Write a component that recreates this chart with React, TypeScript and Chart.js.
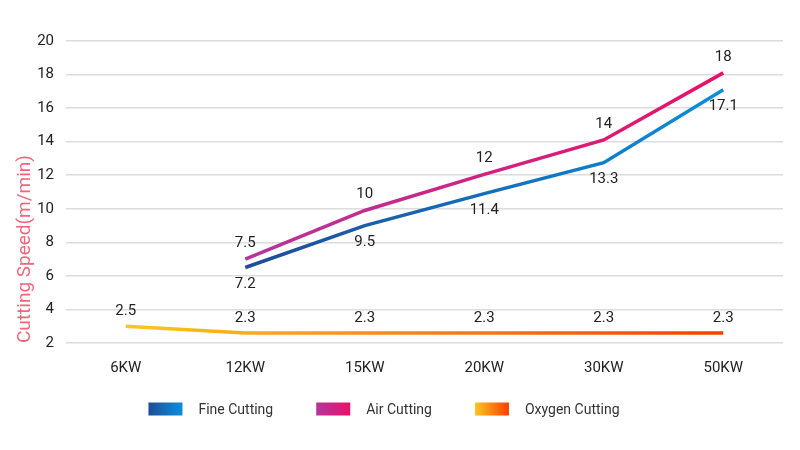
import React, { useEffect, useRef } from "react";
import { Chart, registerables } from "chart.js";

Chart.register(...registerables);

const categories = ["6KW", "12KW", "15KW", "20KW", "30KW", "50KW"];
const fineCutting = [null, 6.5, 9.0, 10.9, 12.75, 17.1];
const airCutting = [null, 7.0, 9.9, 12.05, 14.1, 18.1];
const oxygenCutting = [3.0, 2.6, 2.6, 2.6, 2.6, 2.6];
const fineLabels = ["", "7.2", "9.5", "11.4", "13.3", "17.1"];
const airLabels = ["", "7.5", "10", "12", "14", "18"];
const oxygenLabels = ["2.5", "2.3", "2.3", "2.3", "2.3", "2.3"];
const seriesNames = ["Fine Cutting", "Air Cutting", "Oxygen Cutting"];
const yTicks = [2, 4, 6, 8, 10, 12, 14, 16, 18, 20];

const FONT = "Roboto, 'Noto Sans', sans-serif";
const gradColors: [string, string][] = [
  ["#1f4c98", "#0a8fdc"],
  ["#b4369c", "#ec0f68"],
  ["#fcc71e", "#ff3d00"],
];
const labelDy = [17, -16, -15];

function lineGradient(ctx: any, di: number) {
  const chart = ctx.chart;
  const area = chart.chartArea;
  if (!area) return gradColors[di][0];
  const data = chart.data.datasets[di].data as (number | null)[];
  let first = 0;
  while (first < data.length && data[first] == null) first++;
  const xs = chart.scales.x;
  const x0 = xs.getPixelForValue(first);
  const x1 = xs.getPixelForValue(data.length - 1);
  const g = chart.ctx.createLinearGradient(x0, 0, x1, 0);
  g.addColorStop(0, gradColors[di][0]);
  g.addColorStop(1, gradColors[di][1]);
  return g;
}

const valueLabelPlugin = {
  id: "valueLabels",
  afterDatasetsDraw(chart: any) {
    const ctx = chart.ctx;
    const all = [fineLabels, airLabels, oxygenLabels];
    ctx.save();
    ctx.font = `15px ${FONT}`;
    ctx.fillStyle = "#222";
    ctx.textAlign = "center";
    ctx.textBaseline = "middle";
    all.forEach((labels, di) => {
      const meta = chart.getDatasetMeta(di);
      meta.data.forEach((pt: any, i: number) => {
        const t = labels[i];
        if (!t || pt.skip) return;
        ctx.fillText(t, pt.x, pt.y + labelDy[di]);
      });
    });
    ctx.restore();
  },
};

const legendPlugin = {
  id: "customLegend",
  afterDraw(chart: any) {
    const ctx = chart.ctx;
    ctx.save();
    ctx.font = `14px ${FONT}`;
    const boxW = 34, boxH = 13, gap = 16, itemGap = 43;
    const widths = seriesNames.map((n) => ctx.measureText(n).width);
    const total = widths.reduce((a, w) => a + boxW + gap + w, 0) + itemGap * (seriesNames.length - 1);
    let x = 384 - total / 2;
    const y = 409;
    seriesNames.forEach((n, i) => {
      const g = ctx.createLinearGradient(x, 0, x + boxW, 0);
      g.addColorStop(0, gradColors[i][0]);
      g.addColorStop(1, gradColors[i][1]);
      ctx.fillStyle = g;
      ctx.fillRect(x, y - boxH / 2, boxW, boxH);
      ctx.fillStyle = "#333";
      ctx.textAlign = "left";
      ctx.textBaseline = "middle";
      ctx.fillText(n, x + boxW + gap, y + 1);
      x += boxW + gap + widths[i] + itemGap;
    });
    ctx.restore();
  },
};

export default function App() {
  const ref = useRef<HTMLCanvasElement>(null);
  useEffect(() => {
    document.body.style.margin = "0";
    const series = [fineCutting, airCutting, oxygenCutting];
    const chart = new Chart(ref.current!, {
      type: "line",
      data: {
        labels: categories,
        datasets: series.map((d, di) => ({
          label: seriesNames[di],
          data: d,
          borderColor: (c: any) => lineGradient(c, di),
          borderWidth: 3.5,
          pointRadius: 0,
          fill: false,
          tension: 0,
        })),
      },
      options: {
        animation: false,
        responsive: false,
        maintainAspectRatio: false,
        layout: { padding: { top: 41, right: 17, bottom: 57, left: 14 } },
        plugins: {
          legend: { display: false },
          tooltip: { enabled: false },
        },
        scales: {
          x: {
            offset: true,
            grid: { display: false, drawTicks: false },
            border: { display: false },
            ticks: { color: "#222", font: { family: FONT, size: 15 }, padding: 16 },
          },
          y: {
            min: 2,
            max: 20,
            afterBuildTicks: (s: any) => {
              s.ticks = yTicks.map((v) => ({ value: v }));
            },
            afterFit: (s: any) => {
              s.width = 52;
            },
            grid: { color: "#dcdcdc", lineWidth: 1.5, drawTicks: false },
            border: { display: false },
            ticks: { color: "#222", font: { family: FONT, size: 15 }, padding: 12 },
            title: {
              display: true,
              text: "Cutting Speed(m/min)",
              color: "#f1667a",
              align: "start",
              font: { family: FONT, size: 19 },
              padding: { top: 0, bottom: 2 },
            },
          },
        },
      },
      plugins: [valueLabelPlugin, legendPlugin],
    });
    return () => chart.destroy();
  }, []);
  return <canvas ref={ref} width={800} height={450} style={{ display: "block" }} />;
}
